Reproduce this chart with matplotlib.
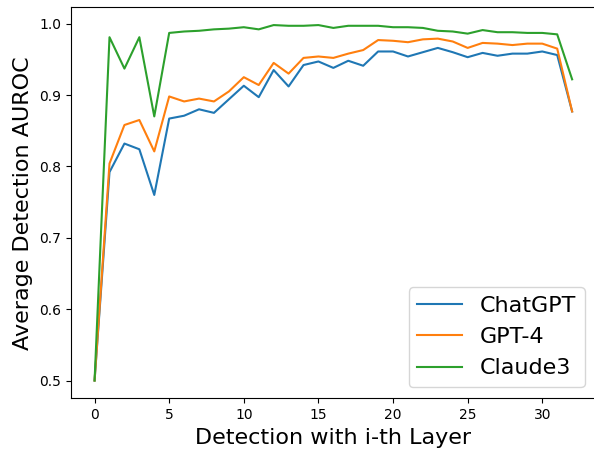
import matplotlib
matplotlib.use("Agg")
import matplotlib.pyplot as plt

layers = list(range(33))
chatgpt = [0.500, 0.792, 0.832, 0.824, 0.760, 0.867, 0.871, 0.880, 0.875, 0.894,
           0.913, 0.897, 0.935, 0.912, 0.942, 0.947, 0.938, 0.948, 0.941, 0.961,
           0.961, 0.954, 0.960, 0.966, 0.960, 0.953, 0.959, 0.955, 0.958, 0.958,
           0.961, 0.956, 0.877]
gpt4 = [0.500, 0.804, 0.858, 0.865, 0.821, 0.898, 0.891, 0.895, 0.891, 0.905,
        0.925, 0.914, 0.945, 0.930, 0.952, 0.954, 0.952, 0.958, 0.963, 0.977,
        0.976, 0.974, 0.978, 0.979, 0.975, 0.966, 0.973, 0.972, 0.970, 0.972,
        0.972, 0.965, 0.877]
claude3 = [0.500, 0.981, 0.937, 0.981, 0.870, 0.987, 0.989, 0.990, 0.992, 0.993,
           0.995, 0.992, 0.998, 0.997, 0.997, 0.998, 0.994, 0.997, 0.997, 0.997,
           0.995, 0.995, 0.994, 0.990, 0.989, 0.986, 0.991, 0.988, 0.988, 0.987,
           0.987, 0.985, 0.922]

fig = plt.figure(figsize=(5.94, 4.5), dpi=100)
ax = fig.add_axes([70.7/594, 1 - 398.3/450, (596 - 70.7)/594, (398.3 - 7.3)/450])
ax.plot(layers, chatgpt, label="ChatGPT")
ax.plot(layers, gpt4, label="GPT-4")
ax.plot(layers, claude3, label="Claude3")
ax.set_xlabel("Detection with i-th Layer", fontsize=16)
ax.set_ylabel("Average Detection AUROC", fontsize=16)
ax.tick_params(labelsize=10)
ax.legend(fontsize=16, loc="lower right")
fig.savefig("out.png", dpi=100)
